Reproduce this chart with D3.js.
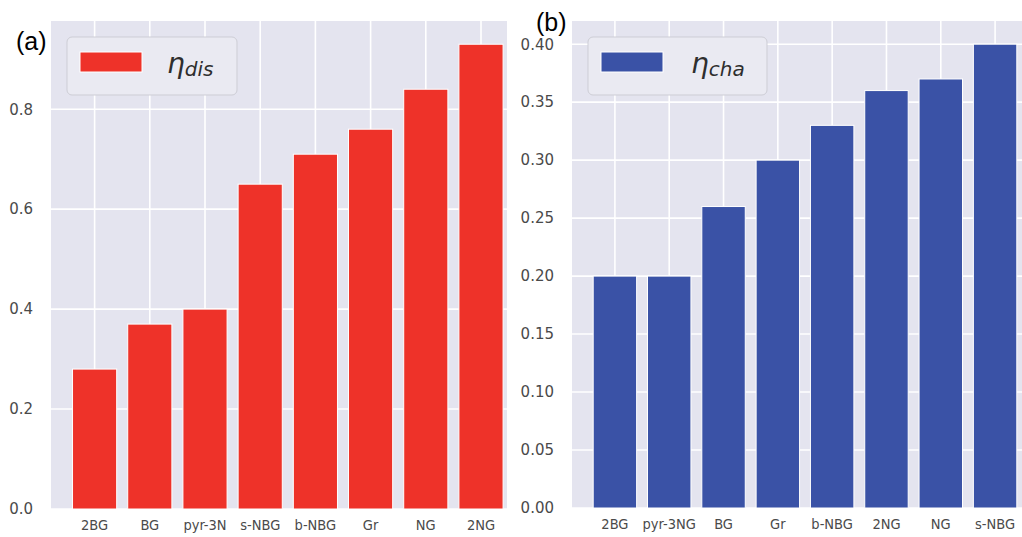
<!DOCTYPE html>
<html>
<head>
<meta charset="utf-8">
<script src="https://cdn.jsdelivr.net/npm/d3@7"></script>
<style>
  body { margin: 0; background: #fff; }
  svg { display: block; }
</style>
</head>
<body>
<div id="chart"></div>
<script>
// panel (a) data
const catsA = ["2BG", "BG", "pyr-3N", "s-NBG", "b-NBG", "Gr", "NG", "2NG"];
const valsA = [0.28, 0.37, 0.40, 0.65, 0.71, 0.76, 0.84, 0.93];
const ticksA = [0, 0.2, 0.4, 0.6, 0.8];

// panel (b) data
const catsB = ["2BG", "pyr-3NG", "BG", "Gr", "b-NBG", "2NG", "NG", "s-NBG"];
const valsB = [0.20, 0.20, 0.26, 0.30, 0.33, 0.36, 0.37, 0.40];
const ticksB = [0, 0.05, 0.10, 0.15, 0.20, 0.25, 0.30, 0.35, 0.40];

let width = 1022;
let height = 537;

let svg = d3.select("#chart")
    .append("svg")
    .attr("width", width)
    .attr("height", height);

function drawPanel(p) {
    // clip, since the panels are cut off on the right
    svg.append("clipPath").attr("id", p.id + "-clip")
        .append("rect")
        .attr("x", p.left).attr("y", p.top)
        .attr("width", p.clipRight - p.left).attr("height", p.bottom - p.top);

    let x = d3.scaleBand()
        .domain(p.cats)
        .range([p.left, p.right])
        .paddingInner(0.2)
        .paddingOuter(0.39);

    let y = d3.scaleLinear()
        .domain([0, d3.max(p.vals) * 1.05])
        .range([p.bottom, p.top]);

    let g = svg.append("g").attr("clip-path", "url(#" + p.id + "-clip)");

    // background
    g.append("rect")
        .attr("x", p.left).attr("y", p.top)
        .attr("width", p.right - p.left).attr("height", p.bottom - p.top)
        .attr("fill", "#E4E4EF");

    // grid
    g.selectAll(".hgrid")
        .data(p.ticks)
        .enter()
        .append("line")
        .attr("x1", p.left).attr("x2", p.right)
        .attr("y1", d => y(d)).attr("y2", d => y(d))
        .attr("stroke", "white").attr("stroke-width", 1.6);

    g.selectAll(".vgrid")
        .data(p.cats)
        .enter()
        .append("line")
        .attr("x1", d => x(d) + x.bandwidth() / 2).attr("x2", d => x(d) + x.bandwidth() / 2)
        .attr("y1", p.top).attr("y2", p.bottom)
        .attr("stroke", "white").attr("stroke-width", 1.6);

    // bars
    g.selectAll(".bar")
        .data(p.cats)
        .enter()
        .append("rect")
        .attr("x", d => x(d))
        .attr("y", (d, i) => y(p.vals[i]))
        .attr("width", x.bandwidth())
        .attr("height", (d, i) => y(0) - y(p.vals[i]))
        .attr("fill", p.color)
        .attr("stroke", "white")
        .attr("stroke-width", 1);

    // y axis labels
    let yAxis = d3.axisLeft(y)
        .tickValues(p.ticks)
        .tickFormat(d3.format(p.fmt))
        .tickSize(0)
        .tickPadding(18);
    let ya = svg.append("g")
        .attr("transform", "translate(" + p.left + ",0)")
        .call(yAxis);
    ya.select(".domain").remove();
    ya.selectAll("text")
        .style("font-family", "DejaVu Sans")
        .style("font-size", "15px")
        .attr("fill", "#4a4a4a");

    // x axis labels
    let xAxis = d3.axisBottom(x).tickSize(0).tickPadding(11);
    let xa = svg.append("g")
        .attr("transform", "translate(0," + p.bottom + ")")
        .call(xAxis);
    xa.select(".domain").remove();
    xa.selectAll("text")
        .style("font-family", "DejaVu Sans Condensed, DejaVu Sans")
        .style("font-size", "14.5px")
        .attr("fill", "#4a4a4a");

    // legend
    let lg = svg.append("g");
    lg.append("rect")
        .attr("x", p.legX).attr("y", 37)
        .attr("width", p.legW).attr("height", 58)
        .attr("rx", 5)
        .attr("fill", "#EAEAF2")
        .attr("stroke", "#CDCDD5")
        .attr("stroke-width", 1);
    lg.append("rect")
        .attr("x", p.legX + 13).attr("y", 52)
        .attr("width", 62).attr("height", 20)
        .attr("fill", p.color)
        .attr("stroke", "white");
    let lt = lg.append("text")
        .attr("x", p.legX + p.etaOff).attr("y", 73)
        .style("font-family", "DejaVu Sans")
        .style("font-style", "italic")
        .attr("fill", "#2e2e2e");
    lt.append("tspan").style("font-size", "28px").text("η");
    lt.append("tspan").style("font-size", "20px").attr("dy", 3).text(p.sub);

    // panel label
    svg.append("text")
        .attr("x", p.labX).attr("y", p.labY)
        .style("font-family", "Liberation Sans, Arial")
        .style("font-size", "25px")
        .attr("fill", "black")
        .text(p.label);
}

drawPanel({
    id: "a", cats: catsA, vals: valsA, ticks: ticksA, fmt: ".1f",
    left: 51, right: 524.6, clipRight: 507, top: 21, bottom: 509,
    color: "#EE3229", legX: 67, legW: 170, etaOff: 100, sub: "dis",
    label: "(a)", labX: 16, labY: 50
});

drawPanel({
    id: "b", cats: catsB, vals: valsB, ticks: ticksB, fmt: ".2f",
    left: 572, right: 1038, clipRight: 1022, top: 21, bottom: 508,
    color: "#3A52A6", legX: 588, legW: 179, etaOff: 103, sub: "cha",
    label: "(b)", labX: 536, labY: 31
});
</script>
</body>
</html>
